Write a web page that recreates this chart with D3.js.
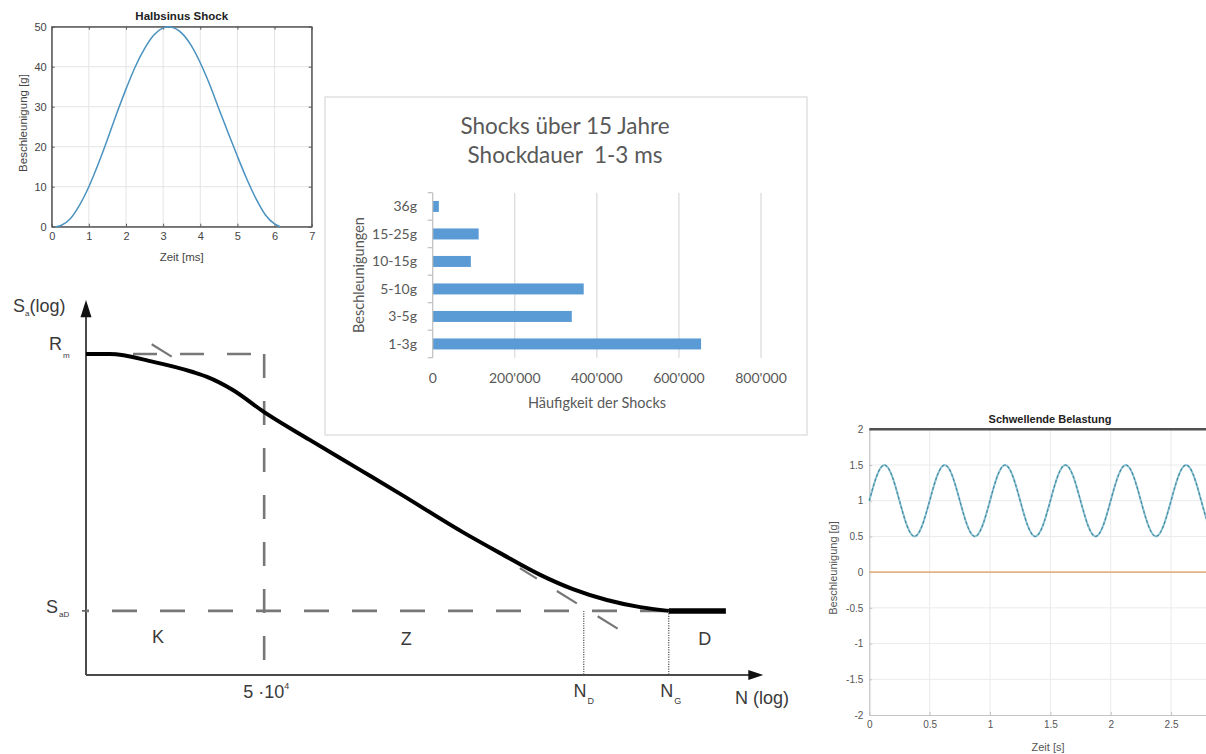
<!DOCTYPE html>
<html><head><meta charset="utf-8">
<script src="https://cdn.jsdelivr.net/npm/d3@7"></script>
<style>body{margin:0;background:#fff}svg{display:block}</style>
</head><body><svg id="c" width="1206" height="754"></svg>
<script>
// ---------------- DATA ----------------
// Halbsinus Shock
const halfTime  = [0.1,0.25,0.5,0.75,1,1.25,1.5,1.75,2,2.25,2.5,2.75,3,3.15,3.5,3.75,4,4.25,4.5,4.75,5,5.25,5.5,5.75,6,6.15];
const halfAccel = [0,0.3,2,5.4,10,15.6,21.8,28.3,34.4,40,44.5,47.9,49.7,50,48.4,45.4,41,35.6,29.5,23.5,17.6,12,7,3,0.7,0];
const halfXTicks = [0,1,2,3,4,5,6,7];
const halfYTicks = [0,10,20,30,40,50];

// Shocks über 15 Jahre
const barCategories = ["1-3g","3-5g","5-10g","10-15g","15-25g","36g"];
const barCounts     = [654000,339000,368000,93000,112000,15000];
const barTicks      = [0,200000,400000,600000,800000];
const barTickLabels = ["0","200'000","400'000","600'000","800'000"];

// Schwellende Belastung
const swellTime  = [0,0.0625,0.125,0.1875,0.25,0.3125,0.375,0.4375,0.5,0.5625,0.625,0.6875,0.75,0.8125,0.875,0.9375,1,1.0625,1.125,1.1875,1.25,1.3125,1.375,1.4375,1.5,1.5625,1.625,1.6875,1.75,1.8125,1.875,1.9375,2,2.0625,2.125,2.1875,2.25,2.3125,2.375,2.4375,2.5,2.5625,2.625,2.6875,2.75,2.8125,2.875,2.9375,3];
const swellAccel = [1,1.35,1.5,1.35,1,0.65,0.5,0.65, 1,1.35,1.5,1.35,1,0.65,0.5,0.65, 1,1.35,1.5,1.35,1,0.65,0.5,0.65, 1,1.35,1.5,1.35,1,0.65,0.5,0.65, 1,1.35,1.5,1.35,1,0.65,0.5,0.65, 1,1.35,1.5,1.35,1,0.65,0.5,0.65, 1];
const baseTime  = [0,3];
const baseAccel = [0,0];
const swellGridX = [0.5,1,1.5,2,2.5,3];
const swellXTicks = [0,0.5,1,1.5,2,2.5];
const swellXLabels = ["0","0.5","1","1.5","2","2.5"];
const swellYTicks = [-2,-1.5,-1,-0.5,0,0.5,1,1.5,2];

// Wöhler (S-N) schematic, relative log units 0..100
const wohlerN = [0,3.5,9.9,15.7,17.8,21.6,26.2,32.9,40.3,46.2,55.4,60.9,66.8,71.6,76.6,81.5,85.7];
const wohlerS = [85.6,85.6,83.5,80.8,79.5,76,70.1,62.7,54.7,48.3,38.1,32.5,26.7,22.9,20,18.1,17.1];
const enduranceN = [85.7,94.1];
const enduranceS = [17.1,17.1];
const levelRm = 85.6, levelSaD = 17.1;
const posN5e4 = 26.2, posND = 73.2, posNG = 85.7;
const zTopN = [9.66,12.6],  zTopS = [88.2,84.9];
const zLowN = [63.8,78.24], zLowS = [28.5,12.3];

// ---------------- DRAW ----------------
const svg = d3.select("#c");
svg.append("rect").attr("width",1206).attr("height",754).attr("fill","#fff");
const SANS = "'Liberation Sans', Arial, Helvetica, sans-serif";

// ===== S-N diagram =====
(function(){
  const x = d3.scaleLinear().domain([0,100]).range([86,766]);
  const y = d3.scaleLinear().domain([0,100]).range([675,300]);
  const g = svg.append("g");
  const ink = "#3a3a3a";
  g.append("line").attr("x1",x(0)).attr("y1",y(0)).attr("x2",x(0)).attr("y2",y(95.5))
    .attr("stroke","#4a4a4a").attr("stroke-width",2);
  g.append("line").attr("x1",x(0)).attr("y1",y(0)).attr("x2",x(97.5)).attr("y2",y(0))
    .attr("stroke","#4a4a4a").attr("stroke-width",2);
  g.append("path").attr("d",`M${x(0)},${y(100)} L${x(0)-5.5},${y(95.4)} L${x(0)+5.5},${y(95.4)} Z`).attr("fill","#111");
  g.append("path").attr("d",`M${x(99.6)},${y(0)} L${x(97.4)},${y(0)-5} L${x(97.4)},${y(0)+5} Z`).attr("fill","#111");
  g.append("line").attr("x1",x(0)-4).attr("x2",x(0)).attr("y1",y(levelSaD)).attr("y2",y(levelSaD))
    .attr("stroke","#555").attr("stroke-width",1.5);

  const dashCol = "#777";
  g.append("line").attr("x1",x(0)).attr("x2",x(posN5e4)).attr("y1",y(levelRm)).attr("y2",y(levelRm))
    .attr("stroke",dashCol).attr("stroke-width",2.6).attr("stroke-dasharray","24,23");
  g.append("line").attr("x1",x(posN5e4)).attr("x2",x(posN5e4)).attr("y1",y(levelRm)).attr("y2",y(2.5))
    .attr("stroke",dashCol).attr("stroke-width",2.6).attr("stroke-dasharray","24,23");
  g.append("line").attr("x1",x(0)).attr("x2",x(posNG)).attr("y1",y(levelSaD)).attr("y2",y(levelSaD))
    .attr("stroke",dashCol).attr("stroke-width",2.6).attr("stroke-dasharray","25,23").attr("stroke-dashoffset",22);
  // Z tangent (visible parts)
  g.append("line").attr("x1",x(zTopN[0])).attr("y1",y(zTopS[0])).attr("x2",x(zTopN[1])).attr("y2",y(zTopS[1]))
    .attr("stroke",dashCol).attr("stroke-width",2.2);
  g.append("line").attr("x1",x(zLowN[0])).attr("y1",y(zLowS[0])).attr("x2",x(zLowN[1])).attr("y2",y(zLowS[1]))
    .attr("stroke",dashCol).attr("stroke-width",2.2).attr("stroke-dasharray","20,23.5,23.5,24.5,23.5,30");
  [posND,posNG].forEach(p=>{
    g.append("line").attr("x1",x(p)).attr("x2",x(p)).attr("y1",y(levelSaD)).attr("y2",y(0))
      .attr("stroke","#555").attr("stroke-width",1.2).attr("stroke-dasharray","1.2,1.2");
  });
  const line = d3.line().x((d,i)=>x(wohlerN[i])).y((d,i)=>y(wohlerS[i])).curve(d3.curveMonotoneX);
  g.append("path").attr("d",line(wohlerN)).attr("fill","none").attr("stroke","#000").attr("stroke-width",4);
  const l2 = d3.line().x((d,i)=>x(enduranceN[i])).y((d,i)=>y(enduranceS[i]));
  g.append("path").attr("d",l2(enduranceN)).attr("fill","none").attr("stroke","#000").attr("stroke-width",5.5);

  const T = (xx,yy,anchor,size)=>g.append("text").attr("x",xx).attr("y",yy).attr("text-anchor",anchor||"start")
      .attr("font-family",SANS).attr("font-size",size||18).attr("fill",ink);
  let t = T(13,312,"start",18); t.append("tspan").text("S");
  t.append("tspan").attr("font-size",8).attr("dy",4).text("a");
  t.append("tspan").attr("dy",-4).text("(log)");
  t = T(49,350,"start",18); t.append("tspan").text("R");
  t.append("tspan").attr("font-size",8).attr("dy",8).attr("dx",1).text("m");
  t = T(46,613,"start",18); t.append("tspan").text("S");
  t.append("tspan").attr("font-size",8).attr("dy",4).attr("dx",1).text("aD");
  T(x(10.6),643,"middle",18).text("K");
  T(x(47.1),645,"middle",18).text("Z");
  T(x(91.0),645,"middle",18).text("D");
  t = T(x(posN5e4)+2,698,"middle",18); t.append("tspan").text("5 ·10");
  t.append("tspan").attr("font-size",9).attr("dy",-9).text("4");
  t = T(x(posND),697,"middle",18); t.append("tspan").text("N");
  t.append("tspan").attr("font-size",9).attr("dy",7).attr("dx",1).text("D");
  t = T(x(posNG)+2,697,"middle",18); t.append("tspan").text("N");
  t.append("tspan").attr("font-size",9).attr("dy",7).attr("dx",1).text("G");
  T(735,704,"start",18).text("N (log)");
})();

// ===== Halbsinus Shock =====
(function(){
  const L=51.7,R=311.7,Tp=26.7,B=226.7;
  const x = d3.scaleLinear().domain([0,7]).range([L,R]);
  const y = d3.scaleLinear().domain([0,50]).range([B,Tp]);
  const g = svg.append("g");
  const grid="#e4e4e4";
  halfXTicks.forEach(v=>{ if(v>0&&v<7) g.append("line").attr("x1",x(v)).attr("x2",x(v)).attr("y1",Tp).attr("y2",B).attr("stroke",grid);});
  halfYTicks.forEach(v=>{ if(v>0&&v<50) g.append("line").attr("y1",y(v)).attr("y2",y(v)).attr("x1",L).attr("x2",R).attr("stroke",grid);});
  g.append("g").attr("transform",`translate(0,${B})`)
    .call(d3.axisBottom(x).tickValues(halfXTicks).tickFormat(d3.format("d")).tickSizeInner(-3).tickSizeOuter(0).tickPadding(6));
  g.append("g").attr("transform",`translate(${L},0)`)
    .call(d3.axisLeft(y).tickValues(halfYTicks).tickFormat(d3.format("d")).tickSizeInner(-3).tickSizeOuter(0).tickPadding(5));
  g.append("g").attr("transform",`translate(0,${Tp})`).call(d3.axisTop(x).tickValues(halfXTicks).tickFormat("").tickSizeInner(-3).tickSizeOuter(0));
  g.append("g").attr("transform",`translate(${R},0)`).call(d3.axisRight(y).tickValues(halfYTicks).tickFormat("").tickSizeInner(-3).tickSizeOuter(0));
  g.selectAll(".domain").attr("stroke","#5a5a5a");
  g.selectAll(".tick line").attr("stroke","#5a5a5a");
  g.selectAll(".tick text").attr("font-family",SANS).attr("font-size",11).attr("fill","#444");
  g.append("rect").attr("x",L).attr("y",Tp).attr("width",R-L).attr("height",B-Tp).attr("fill","none").attr("stroke","#5a5a5a").attr("stroke-width",1);
  const line = d3.line().x((d,i)=>x(halfTime[i])).y((d,i)=>y(halfAccel[i])).curve(d3.curveMonotoneX);
  g.append("path").attr("d",line(halfTime)).attr("fill","none").attr("stroke","#4a92bf").attr("stroke-width",1.5);
  g.append("text").attr("x",(L+R)/2).attr("y",20).attr("text-anchor","middle").attr("font-family",SANS)
    .attr("font-size",11.5).attr("font-weight","bold").attr("fill","#222").text("Halbsinus Shock");
  g.append("text").attr("x",(L+R)/2).attr("y",261).attr("text-anchor","middle").attr("font-family",SANS)
    .attr("font-size",11.5).attr("fill","#444").text("Zeit [ms]");
  g.append("text").attr("transform",`translate(27,123) rotate(-90)`).attr("text-anchor","middle").attr("font-family",SANS)
    .attr("font-size",11.5).attr("fill","#444").text("Beschleunigung [g]");
})();

// ===== Shocks über 15 Jahre =====
(function(){
  const g = svg.append("g");
  g.append("rect").attr("x",325).attr("y",97).attr("width",482).attr("height",338).attr("fill","#fff").attr("stroke","#d9d9d9").attr("stroke-width",1.2);
  const FONT = "Lato, 'Open Sans', sans-serif";
  const txt = "#595959";
  g.append("text").attr("x",565).attr("y",134).attr("text-anchor","middle").attr("font-family",FONT).attr("font-size",22.5).attr("fill",txt).text("Shocks über 15 Jahre");
  g.append("text").attr("x",565).attr("y",163).attr("text-anchor","middle").attr("font-family",FONT).attr("font-size",22.5).attr("fill",txt).text("Shockdauer\u00A0\u00A01-3 ms");
  const x = d3.scaleLinear().domain([0,800000]).range([432.7,761]);
  const y = d3.scaleBand().domain(barCategories.slice().reverse()).range([192.7,357.7]).paddingInner(0.6).paddingOuter(0.3);
  barTicks.forEach(v=>{ if(v>0) g.append("line").attr("x1",x(v)).attr("x2",x(v)).attr("y1",192.7).attr("y2",357.7).attr("stroke","#d9d9d9").attr("stroke-width",1.2);});
  g.selectAll(".bar").data(barCategories).enter().append("rect")
    .attr("x",x(0)).attr("y",d=>y(d)).attr("height",y.bandwidth())
    .attr("width",(d,i)=>x(barCounts[i])-x(0)).attr("fill","#5b9bd5");
  g.append("line").attr("x1",x(0)).attr("x2",x(0)).attr("y1",192.7).attr("y2",357.7).attr("stroke","#bfbfbf").attr("stroke-width",1.2);
  for(let k=0;k<=barCategories.length;k++){
    const yy = 192.7 + k*(357.7-192.7)/barCategories.length;
    g.append("line").attr("x1",x(0)-5).attr("x2",x(0)).attr("y1",yy).attr("y2",yy).attr("stroke","#bfbfbf").attr("stroke-width",1.2);
  }
  barCategories.forEach(c=>{
    g.append("text").attr("x",417).attr("y",y(c)+y.bandwidth()/2+5).attr("text-anchor","end").attr("font-family",FONT)
      .attr("font-size",14).attr("fill",txt).text(c);
  });
  barTicks.forEach((v,i)=>{
    g.append("text").attr("x",x(v)).attr("y",383).attr("text-anchor","middle").attr("font-family",FONT)
      .attr("font-size",14).attr("fill",txt).text(barTickLabels[i]);
  });
  g.append("text").attr("x",597).attr("y",408).attr("text-anchor","middle").attr("font-family",FONT).attr("font-size",14.5).attr("fill",txt).text("Häufigkeit der Shocks");
  g.append("text").attr("transform","translate(364,275) rotate(-90)").attr("text-anchor","middle").attr("font-family",FONT).attr("font-size",14.5).attr("fill",txt).text("Beschleunigungen");
})();

// ===== Schwellende Belastung =====
(function(){
  const L=869.3,R=1231.4,Tp=429.3,B=715;
  const x = d3.scaleLinear().domain([0,3]).range([L,R]);
  const y = d3.scaleLinear().domain([-2,2]).range([B,Tp]);
  const g = svg.append("g");
  const grid="#ebebeb";
  swellGridX.forEach(v=>{ g.append("line").attr("x1",x(v)).attr("x2",x(v)).attr("y1",Tp).attr("y2",B).attr("stroke",grid);});
  swellYTicks.forEach(v=>{ if(v>-2&&v<2) g.append("line").attr("y1",y(v)).attr("y2",y(v)).attr("x1",L).attr("x2",R).attr("stroke",grid);});
  g.append("g").attr("transform",`translate(0,${B})`)
    .call(d3.axisBottom(x).tickValues(swellXTicks).tickFormat((d,i)=>swellXLabels[i]).tickSizeInner(-3).tickSizeOuter(0).tickPadding(6));
  g.append("g").attr("transform",`translate(${L},0)`)
    .call(d3.axisLeft(y).tickValues(swellYTicks).tickFormat(d=>String(d)).tickSizeInner(-3).tickSizeOuter(0).tickPadding(6));
  g.selectAll(".domain").attr("stroke","#c4c4c4").attr("stroke-width",1.2);
  g.selectAll(".tick line").attr("stroke","#c4c4c4");
  g.selectAll(".tick text").attr("font-family",SANS).attr("font-size",10).attr("fill","#555");
  g.append("line").attr("x1",L).attr("x2",R).attr("y1",Tp).attr("y2",Tp).attr("stroke","#505050").attr("stroke-width",2.4);
  const bl = d3.line().x((d,i)=>x(baseTime[i])).y((d,i)=>y(baseAccel[i]));
  g.append("path").attr("d",bl(baseTime)).attr("fill","none").attr("stroke","#e2b486").attr("stroke-width",1.6);
  const sl = d3.line().x((d,i)=>x(swellTime[i])).y((d,i)=>y(swellAccel[i])).curve(d3.curveNatural);
  g.append("path").attr("d",sl(swellTime)).attr("fill","none").attr("stroke","#8fc3d3").attr("stroke-width",2);
  g.append("path").attr("d",sl(swellTime)).attr("fill","none").attr("stroke","#3f8aa0").attr("stroke-width",1.1).attr("stroke-dasharray","3,2");
  g.append("text").attr("x",1050).attr("y",423).attr("text-anchor","middle").attr("font-family",SANS)
    .attr("font-size",11).attr("font-weight","bold").attr("fill","#222").text("Schwellende Belastung");
  g.append("text").attr("x",1048).attr("y",751).attr("text-anchor","middle").attr("font-family",SANS)
    .attr("font-size",11).attr("fill","#555").text("Zeit [s]");
  g.append("text").attr("transform",`translate(837,568) rotate(-90)`).attr("text-anchor","middle").attr("font-family",SANS)
    .attr("font-size",11).attr("fill","#555").text("Beschleunigung [g]");
})();
</script></body></html>
